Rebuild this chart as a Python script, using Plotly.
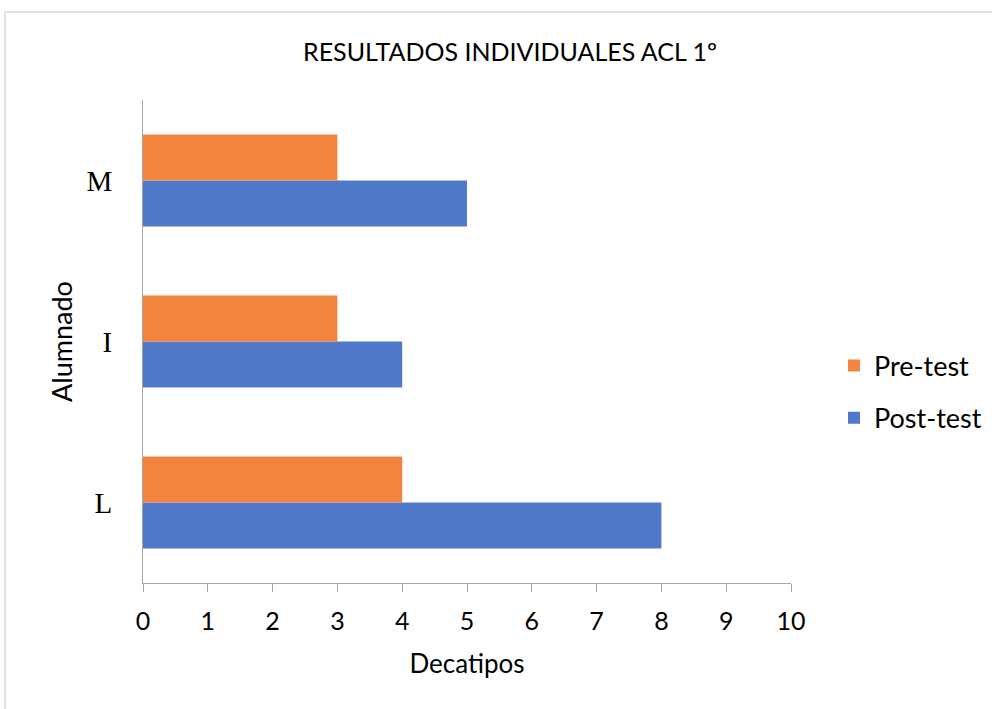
import plotly.graph_objects as go

categories = ["L", "I", "M"]
pre_test = [4, 3, 3]
post_test = [8, 4, 5]
x_ticks = [0, 1, 2, 3, 4, 5, 6, 7, 8, 9, 10]

font_main = "Lato, 'Open Sans', sans-serif"

fig = go.Figure()
fig.add_trace(go.Bar(
    y=categories, x=post_test, name="Post-test", orientation="h",
    marker=dict(color="#5079CA", line=dict(width=0)),
    legendgroup="b", legendrank=2,
))
fig.add_trace(go.Bar(
    y=categories, x=pre_test, name="Pre-test", orientation="h",
    marker=dict(color="#F2843F", line=dict(width=0)),
    legendgroup="a", legendrank=1,
))

fig.update_layout(
    width=992, height=709,
    margin=dict(l=143, r=201, t=100, b=126),
    paper_bgcolor="white", plot_bgcolor="white",
    barmode="group", bargap=0.43, bargroupgap=0,
    title=dict(text="RESULTADOS INDIVIDUALES ACL 1º", xref="container", x=510 / 992, xanchor="center",
               y=1 - 52 / 709, yanchor="middle",
               font=dict(family=font_main, size=25, color="#000000")),
    font=dict(family=font_main, color="#000000"),
    showlegend=True,
    legend=dict(traceorder="grouped", xref="container", yref="container",
                x=834 / 992, xanchor="left", y=1 - 392 / 709, yanchor="middle",
                font=dict(family=font_main, size=27, color="#000000"),
                tracegroupgap=14, itemwidth=30, bgcolor="rgba(0,0,0,0)"),
    xaxis=dict(range=[0, 10], tickvals=x_ticks, ticktext=[str(v) for v in x_ticks],
               showgrid=False, zeroline=False, showline=True, linecolor="#A6A6A6", linewidth=1,
               ticks="outside", ticklen=8, tickcolor="#A6A6A6", tickwidth=1,
               ticklabelstandoff=8, automargin=False,
               tickfont=dict(family=font_main, size=25, color="#000000"),
               title=dict(text="Decatipos", font=dict(family=font_main, size=26, color="#000000"),
                          standoff=20)),
    yaxis=dict(categoryorder="array", categoryarray=categories,
               showgrid=False, zeroline=False, showline=True, linecolor="#A6A6A6", linewidth=1,
               ticks="", ticklabelstandoff=24, automargin=False,
               tickfont=dict(family="'Liberation Serif', 'Times New Roman', serif", size=29, color="#000000"),
               title=dict(text="Alumnado", font=dict(family=font_main, size=27, color="#000000"),
                          standoff=5)),
    shapes=[dict(type="rect", xref="paper", yref="paper",
                 x0=(5 - 143) / 648, x1=1.5, y0=-0.5, y1=(583 - 12) / 483,
                 line=dict(color="#D9D9D9", width=1.5), fillcolor="rgba(0,0,0,0)", layer="below")],
)

fig.write_html("out.html")
